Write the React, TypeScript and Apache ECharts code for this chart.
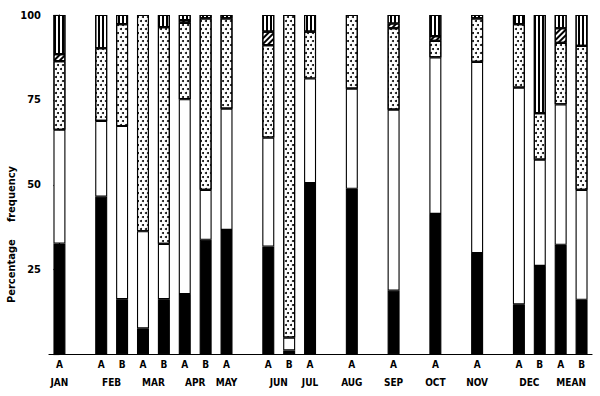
import React, { useEffect, useRef } from 'react';
import * as echarts from 'echarts';

// 26 slots along the x axis (empty slots are gaps between months)
const slotMonths = ['JAN', '', 'FEB', 'FEB', 'MAR', 'MAR', 'APR', 'APR', 'MAY', '', 'JUN', 'JUN', 'JUL', '', 'AUG', '', 'SEP', '', 'OCT', '', 'NOV', '', 'DEC', 'DEC', 'MEAN', 'MEAN'];
const slotGroups = ['A', '', 'A', 'B', 'A', 'B', 'A', 'B', 'A', '', 'A', 'B', 'A', '', 'A', '', 'A', '', 'A', '', 'A', '', 'A', 'B', 'A', 'B'];

// percentage frequency of each segment, bottom to top
const blackPart = [32.7, null, 46.5, 16.3, 7.7, 16.3, 17.8, 33.8, 36.7, null, 31.8, 1.2, 50.5, null, 48.8, null, 18.8, null, 41.4, null, 29.9, null, 14.8, 26.1, 32.3, 16.1];
const whitePart = [33.5, null, 22.3, 51.0, 28.6, 16.3, 57.4, 14.7, 35.7, null, 32.1, 3.8, 30.8, null, 29.5, null, 53.3, null, 46.1, null, 56.3, null, 63.8, 31.3, 41.4, 32.4];
const dottedPart = [20.2, null, 21.4, 30.0, 63.7, 63.8, 22.5, 50.5, 26.6, null, 27.2, 95.0, 13.8, null, 21.7, null, 24.0, null, 4.9, null, 12.8, null, 18.7, 13.7, 18.1, 42.4];
const hatchedPart = [2.1, null, 0, 0, 0, 0, 0.8, 0, 0, null, 4.0, 0, 0, null, 0, null, 1.4, null, 1.4, null, 0, null, 0, 0, 4.3, 0];
const linedPart = [11.5, null, 9.8, 2.7, 0, 3.6, 1.5, 1.0, 1.0, null, 4.9, 0, 4.9, null, 0, null, 2.5, null, 6.2, null, 1.0, null, 2.7, 28.9, 3.9, 9.1];

const yTicks = [25, 50, 75, 100];

export default function App() {
  const ref = useRef<HTMLDivElement>(null);
  useEffect(() => {
    const chart = echarts.init(ref.current!, null, { renderer: 'svg' });
    const font = "'DejaVu Sans Condensed', 'DejaVu Sans', sans-serif";

    const monthPos: Record<number, string> = {};
    const months = Array.from(new Set(slotMonths.filter((m) => m)));
    months.forEach((m) => {
      const idx = slotMonths.map((s, i) => (s === m ? i : -1)).filter((i) => i >= 0);
      const c = (idx[0] + idx[idx.length - 1]) / 2;
      monthPos[Math.round(c * 2)] = m;
    });

    const clean = (arr: (number | null)[]) => arr.map((v) => (v === null || v === 0 ? '-' : v));

    const base = {
      type: 'bar',
      stack: 'p',
      barWidth: 12,
      xAxisIndex: 0,
    };
    const border = { borderColor: '#000', borderWidth: 1.1 };

    chart.setOption({
      animation: false,
      backgroundColor: '#fff',
      grid: { left: 49, right: 8, top: 15, bottom: 41.5, containLabel: false },
      xAxis: [
        {
          type: 'category',
          data: slotMonths.map((_, i) => 's' + i),
          boundaryGap: true,
          axisLine: { show: true, lineStyle: { color: '#000', width: 1.2 } },
          axisTick: { show: false },
          axisLabel: {
            interval: 0,
            margin: 5,
            color: '#000',
            fontFamily: font,
            fontWeight: 'bold',
            fontSize: 10,
            formatter: (_v: string, i: number) => slotGroups[i],
          },
          splitLine: { show: false },
        },
        {
          type: 'value',
          position: 'bottom',
          min: -0.5,
          max: 25.5,
          interval: 0.5,
          axisLine: { show: false },
          axisTick: { show: false },
          splitLine: { show: false },
          axisLabel: {
            margin: 23,
            color: '#000',
            fontFamily: font,
            fontWeight: 'bold',
            fontSize: 10,
            showMinLabel: true,
            showMaxLabel: true,
            formatter: (v: number) => monthPos[Math.round(v * 2)] ?? '',
          },
        },
      ],
      yAxis: {
        type: 'value',
        min: 0,
        max: 100,
        interval: 25,
        axisLine: { show: true, lineStyle: { color: '#000', width: 1.2 } },
        axisTick: { show: true, inside: false, length: 6, lineStyle: { color: '#000', width: 1.2 } },
        splitLine: { show: false },
        axisLabel: {
          margin: 8,
          color: '#000',
          fontFamily: font,
          fontWeight: 'bold',
          fontSize: 11,
          formatter: (v: number) => (yTicks.includes(v) ? String(v) : ''),
        },
      },
      graphic: [
        {
          type: 'text',
          left: 6,
          top: 166,
          rotation: Math.PI / 2,
          style: {
            text: 'Percentage     frequency',
            fill: '#000',
            font: `bold 11px ${font}`,
          },
        },
      ],
      series: [
        { ...base, name: 'black', data: clean(blackPart), itemStyle: { color: '#000', ...border } },
        { ...base, name: 'white', data: clean(whitePart), itemStyle: { color: '#fff', ...border } },
        {
          ...base,
          name: 'dotted',
          data: clean(dottedPart),
          itemStyle: {
            color: '#fff',
            ...border,
            decal: {
              symbol: 'circle',
              symbolSize: 1,
              color: '#000',
              backgroundColor: '#fff',
              dashArrayX: [[1.6, 2.4], [0, 2, 1.6, 0.4]],
              dashArrayY: [1.6, 1.4],
            },
          },
        },
        {
          ...base,
          name: 'hatched',
          data: clean(hatchedPart),
          itemStyle: {
            color: '#fff',
            ...border,
            decal: {
              symbol: 'rect',
              symbolSize: 1,
              color: '#000',
              backgroundColor: '#fff',
              dashArrayX: [1, 0],
              dashArrayY: [1.3, 1.4],
              rotation: -Math.PI / 4,
            },
          },
        },
        {
          ...base,
          name: 'lined',
          data: clean(linedPart),
          itemStyle: {
            color: '#fff',
            ...border,
            decal: {
              symbol: 'rect',
              symbolSize: 1,
              color: '#000',
              backgroundColor: '#fff',
              dashArrayX: [1, 0],
              dashArrayY: [1.3, 1.2],
              rotation: Math.PI / 2,
            },
          },
        },
      ],
    });
    return () => chart.dispose();
  }, []);
  return <div ref={ref} style={{ position: 'fixed', left: 0, top: 0, width: 600, height: 396 }} />;
}
